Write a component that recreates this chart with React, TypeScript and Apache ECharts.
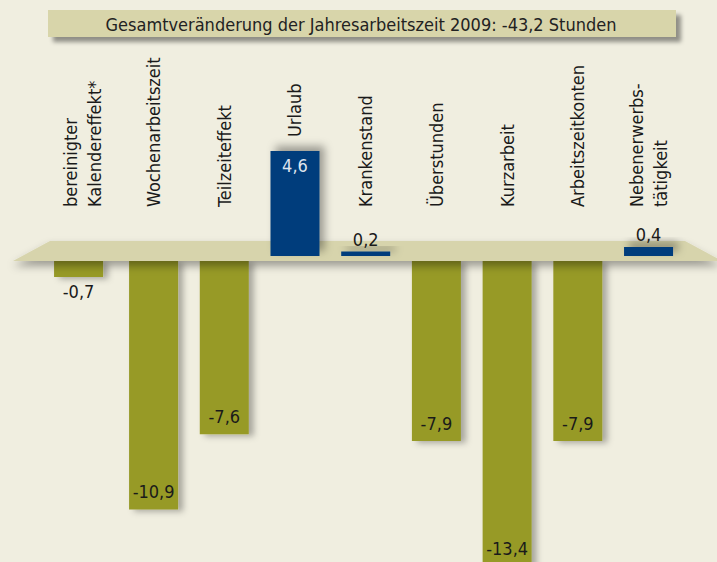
import React, { useEffect, useRef } from "react";
import * as echarts from "echarts";

const categories = [
  "bereinigter\nKalendereffekt*",
  "Wochenarbeitszeit",
  "Teilzeiteffekt",
  "Urlaub",
  "Krankenstand",
  "Überstunden",
  "Kurzarbeit",
  "Arbeitszeitkonten",
  "Nebenerwerbs-\ntätigkeit",
];
const values = [-0.7, -10.9, -7.6, 4.6, 0.2, -7.9, -13.4, -7.9, 0.4];
const titleText = "Gesamtveränderung der Jahresarbeitszeit 2009: -43,2 Stunden";

const FONT = '"Liberation Sans Narrow", "DejaVu Sans Condensed", "Roboto", sans-serif';
const OLIVE = "#979a28";
const BLUE = "#003d7b";
const fmt = (v: number) => String(v).replace(".", ",");

export default function App() {
  const ref = useRef<HTMLDivElement>(null);
  useEffect(() => {
    if (!ref.current) return;
    const chart = echarts.init(ref.current, undefined, { renderer: "svg" });
    const left = 47.5;
    const width = 636.4;
    const pxPerUnit = 22.8;
    const negTop = 261;
    const negMin = -(562 - negTop) / pxPerUnit;

    const posData = values.map((v) => {
      if (v <= 0) return "-";
      const big = v > 1;
      return {
        value: v,
        label: big
          ? { position: "insideTop", distance: 5, color: "#dfe4ee" }
          : { position: "top", distance: 3, color: "#1a1a1a" },
      };
    });
    const negItem = (v: number) => {
      const big = v < -1;
      return {
        value: v,
        label: big
          ? { position: "insideBottom", distance: 9 }
          : { position: "bottom", distance: 6 },
      };
    };
    // first bar is drawn in its own (slightly shifted) grid, as in the original
    const negData = values.map((v, i) => (v >= 0 || i === 0 ? "-" : negItem(v)));
    const negFirst = values.map((v, i) => (i === 0 && v < 0 ? negItem(v) : "-"));

    const catLabels = categories.map((c, i) => {
      if (values[i] > 1) {
        return { value: c, textStyle: { padding: [0, 0, 0, 70] } };
      }
      if (i === 0) {
        return { value: c, textStyle: { padding: [4, 0, 0, 0] } };
      }
      return c;
    });

    const negStyle = {
      color: OLIVE,
      shadowBlur: 6,
      shadowOffsetX: 5,
      shadowOffsetY: 2,
      shadowColor: "rgba(0,0,0,0.3)",
    };
    const valLabel = {
      show: true,
      fontSize: 18,
      color: "#1a1a1a",
      fontFamily: FONT,
      formatter: (p: any) => fmt(p.value),
    };

    chart.setOption({
      animation: false,
      backgroundColor: "#f0eee0",
      textStyle: { fontFamily: FONT },
      graphic: [
        {
          type: "rect",
          z: 10,
          shape: { x: 48, y: 10, width: 628, height: 27 },
          style: {
            fill: "#d8d5aa",
            shadowBlur: 4,
            shadowOffsetX: 5,
            shadowOffsetY: 5,
            shadowColor: "rgba(0,0,0,0.4)",
          },
        },
        {
          type: "text",
          z: 11,
          x: 361,
          y: 24,
          style: {
            text: titleText,
            fill: "#222",
            font: `18px ${FONT}`,
            textAlign: "center",
            textVerticalAlign: "middle",
          },
        },
        {
          type: "polygon",
          z: 3,
          shape: {
            points: [
              [50, 241],
              [685, 241],
              [722, 261],
              [13, 261],
            ],
          },
          style: {
            fill: "#d7d4ac",
            shadowBlur: 8,
            shadowOffsetY: 5,
            shadowColor: "rgba(0,0,0,0.35)",
          },
        },
      ],
      grid: [
        { left, width, top: 142, height: 114 },
        { left, width, top: negTop, bottom: 0 },
        { left, width, top: 207, height: 10 },
        { left: left - 4.3, width, top: negTop, bottom: 0 },
      ],
      xAxis: [
        { gridIndex: 0, type: "category", data: categories, show: false },
        { gridIndex: 1, type: "category", data: categories, show: false },
        {
          gridIndex: 2,
          type: "category",
          data: catLabels,
          position: "top",
          axisLine: { show: false },
          axisTick: { show: false },
          axisLabel: {
            rotate: 90,
            margin: 0,
            interval: 0,
            fontSize: 18,
            lineHeight: 24,
            color: "#1a1a1a",
            fontFamily: FONT,
          },
        },
        { gridIndex: 3, type: "category", data: categories, show: false },
      ],
      yAxis: [
        { gridIndex: 0, type: "value", min: 0, max: 5, show: false },
        { gridIndex: 1, type: "value", min: negMin, max: 0, show: false },
        { gridIndex: 2, type: "value", show: false },
        { gridIndex: 3, type: "value", min: negMin, max: 0, show: false },
      ],
      series: [
        {
          type: "bar",
          xAxisIndex: 0,
          yAxisIndex: 0,
          z: 5,
          barWidth: 49,
          data: posData,
          itemStyle: {
            color: BLUE,
            shadowBlur: 8,
            shadowOffsetX: 5,
            shadowOffsetY: -5,
            shadowColor: "rgba(0,0,0,0.35)",
          },
          label: {
            show: true,
            fontSize: 18,
            fontFamily: FONT,
            formatter: (p: any) => fmt(p.value),
          },
        },
        {
          type: "bar",
          xAxisIndex: 1,
          yAxisIndex: 1,
          z: 1,
          clip: false,
          barWidth: 49,
          data: negData,
          itemStyle: negStyle,
          label: valLabel,
        },
        {
          type: "bar",
          xAxisIndex: 3,
          yAxisIndex: 3,
          z: 1,
          clip: false,
          barWidth: 49,
          data: negFirst,
          itemStyle: negStyle,
          label: valLabel,
        },
      ],
    });
    return () => chart.dispose();
  }, []);
  return (
    <div
      ref={ref}
      style={{ position: "fixed", left: 0, top: 0, width: 717, height: 562 }}
    />
  );
}
